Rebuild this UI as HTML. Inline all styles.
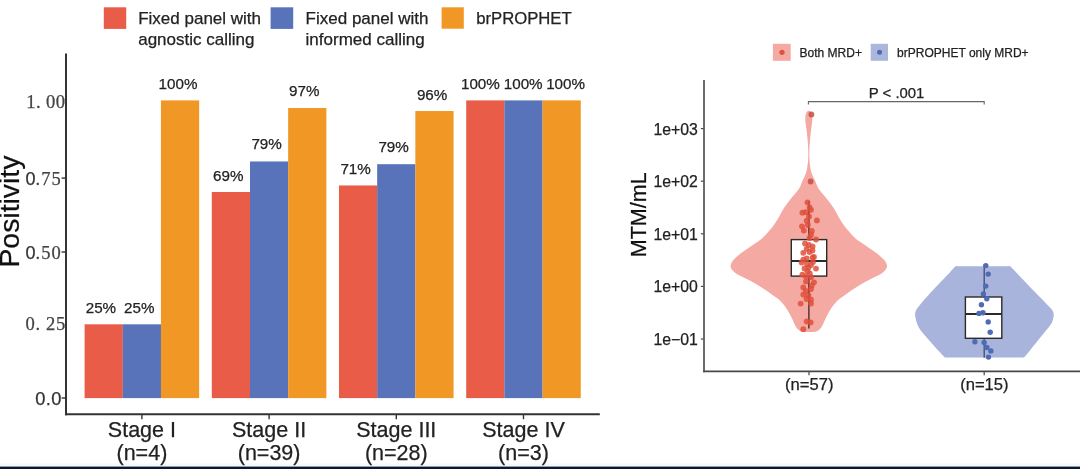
<!DOCTYPE html>
<html><head><meta charset="utf-8"><title>chart</title>
<style>
html,body{margin:0;padding:0;background:#fff;}
body{width:1080px;height:469px;overflow:hidden;position:relative;font-family:"Liberation Sans",sans-serif;}
svg{position:absolute;left:0;top:0;display:block;filter:blur(0.5px);}
text{font-family:"Liberation Sans",sans-serif;}
.serif{font-family:"Liberation Serif",serif;}
</style></head><body>
<svg width="1080" height="469" viewBox="0 0 1080 469">
<rect x="0" y="0" width="1080" height="469" fill="#ffffff"/>
<rect x="0" y="463.5" width="1080" height="3.5" fill="#F2FAFD"/>
<rect x="0" y="466.6" width="1080" height="2.4" fill="#0B1733"/>
<rect x="84.60" y="324.30" width="38.22" height="73.80" fill="#E85C48"/>
<rect x="122.77" y="324.30" width="38.22" height="73.80" fill="#5873B9"/>
<rect x="160.94" y="100.40" width="38.22" height="297.70" fill="#F19726"/>
<rect x="211.80" y="192.00" width="38.22" height="206.10" fill="#E85C48"/>
<rect x="249.97" y="161.47" width="38.22" height="236.63" fill="#5873B9"/>
<rect x="288.14" y="108.03" width="38.22" height="290.07" fill="#F19726"/>
<rect x="339.00" y="185.46" width="38.22" height="212.64" fill="#E85C48"/>
<rect x="377.17" y="164.19" width="38.22" height="233.91" fill="#5873B9"/>
<rect x="415.34" y="111.03" width="38.22" height="287.07" fill="#F19726"/>
<rect x="466.20" y="100.40" width="38.22" height="297.70" fill="#E85C48"/>
<rect x="504.37" y="100.40" width="38.22" height="297.70" fill="#5873B9"/>
<rect x="542.54" y="100.40" width="38.22" height="297.70" fill="#F19726"/>
<line x1="66" y1="53.5" x2="66" y2="415.3" stroke="#333333" stroke-width="2"/>
<line x1="65" y1="414.3" x2="599.8" y2="414.3" stroke="#333333" stroke-width="2"/>
<line x1="61.6" y1="178.1" x2="65.5" y2="178.1" stroke="#333333" stroke-width="1.4"/>
<line x1="61.6" y1="252.0" x2="65.5" y2="252.0" stroke="#333333" stroke-width="1.4"/>
<line x1="61.6" y1="398.0" x2="65.5" y2="398.0" stroke="#333333" stroke-width="1.4"/>
<line x1="141.9" y1="414.5" x2="141.9" y2="419.2" stroke="#333333" stroke-width="1.4"/>
<line x1="269.1" y1="414.5" x2="269.1" y2="419.2" stroke="#333333" stroke-width="1.4"/>
<line x1="396.3" y1="414.5" x2="396.3" y2="419.2" stroke="#333333" stroke-width="1.4"/>
<line x1="523.5" y1="414.5" x2="523.5" y2="419.2" stroke="#333333" stroke-width="1.4"/>
<text class="serif" x="65.3" y="107.5" font-size="18.6" text-anchor="end" fill="#444" letter-spacing="0.35" stroke="#444" stroke-width="0.25">1. 00</text>
<text x="25.5" y="185.4" font-size="18" fill="#333" stroke="#333" stroke-width="0.25">0</text>
<text class="serif" x="35.6" y="185.3" font-size="18.5" fill="#444" letter-spacing="1.0" stroke="#444" stroke-width="0.25">.75</text>
<text x="25.5" y="259.3" font-size="18" fill="#333" stroke="#333" stroke-width="0.25">0</text>
<text class="serif" x="35.6" y="259.2" font-size="18.5" fill="#444" letter-spacing="1.0" stroke="#444" stroke-width="0.25">.50</text>
<text class="serif" x="66.0" y="329.6" font-size="18.6" text-anchor="end" fill="#444" letter-spacing="0.65" stroke="#444" stroke-width="0.25">0. 25</text>
<text x="35.2" y="404.9" font-size="18.3" fill="#333" letter-spacing="0.4" stroke="#333" stroke-width="0.25">0.0</text>
<text transform="translate(18.5,211.6) rotate(-90)" font-size="28.4" text-anchor="middle" fill="#111" stroke="#111" stroke-width="0.25">Positivity</text>
<text x="141.9" y="437.2" font-size="21.5" text-anchor="middle" fill="#222222" stroke="#222222" stroke-width="0.25">Stage I</text>
<text x="141.9" y="459.8" font-size="21.5" text-anchor="middle" fill="#222222" stroke="#222222" stroke-width="0.25">(n=4)</text>
<text x="269.1" y="437.2" font-size="21.5" text-anchor="middle" fill="#222222" stroke="#222222" stroke-width="0.25">Stage II</text>
<text x="269.1" y="459.8" font-size="21.5" text-anchor="middle" fill="#222222" stroke="#222222" stroke-width="0.25">(n=39)</text>
<text x="396.3" y="437.2" font-size="21.5" text-anchor="middle" fill="#222222" stroke="#222222" stroke-width="0.25">Stage III</text>
<text x="396.3" y="459.8" font-size="21.5" text-anchor="middle" fill="#222222" stroke="#222222" stroke-width="0.25">(n=28)</text>
<text x="523.5" y="437.2" font-size="21.5" text-anchor="middle" fill="#222222" stroke="#222222" stroke-width="0.25">Stage IV</text>
<text x="523.5" y="459.8" font-size="21.5" text-anchor="middle" fill="#222222" stroke="#222222" stroke-width="0.25">(n=3)</text>
<text x="100.9" y="312.6" font-size="15.2" text-anchor="middle" fill="#222222" stroke="#222222" stroke-width="0.25">25%</text>
<text x="139.3" y="312.6" font-size="15.2" text-anchor="middle" fill="#222222" stroke="#222222" stroke-width="0.25">25%</text>
<text x="178.0" y="88.6" font-size="15.2" text-anchor="middle" fill="#222222" stroke="#222222" stroke-width="0.25">100%</text>
<text x="228.2" y="180.5" font-size="15.2" text-anchor="middle" fill="#222222" stroke="#222222" stroke-width="0.25">69%</text>
<text x="266.6" y="149.3" font-size="15.2" text-anchor="middle" fill="#222222" stroke="#222222" stroke-width="0.25">79%</text>
<text x="304.3" y="96.2" font-size="15.2" text-anchor="middle" fill="#222222" stroke="#222222" stroke-width="0.25">97%</text>
<text x="355.6" y="174.3" font-size="15.2" text-anchor="middle" fill="#222222" stroke="#222222" stroke-width="0.25">71%</text>
<text x="393.6" y="152.4" font-size="15.2" text-anchor="middle" fill="#222222" stroke="#222222" stroke-width="0.25">79%</text>
<text x="432.1" y="99.5" font-size="15.2" text-anchor="middle" fill="#222222" stroke="#222222" stroke-width="0.25">96%</text>
<text x="480.4" y="88.5" font-size="15.2" text-anchor="middle" fill="#222222" stroke="#222222" stroke-width="0.25">100%</text>
<text x="523.2" y="88.5" font-size="15.2" text-anchor="middle" fill="#222222" stroke="#222222" stroke-width="0.25">100%</text>
<text x="565.6" y="88.5" font-size="15.2" text-anchor="middle" fill="#222222" stroke="#222222" stroke-width="0.25">100%</text>
<rect x="103.8" y="7.3" width="22.4" height="21.6" fill="#E85C48"/>
<text x="138.2" y="24.4" font-size="17" fill="#222222" stroke="#222222" stroke-width="0.25">Fixed panel with</text>
<text x="138.2" y="44.9" font-size="17" fill="#222222" stroke="#222222" stroke-width="0.25">agnostic calling</text>
<rect x="270.6" y="7.3" width="22.6" height="21.6" fill="#5873B9"/>
<text x="305.6" y="24.4" font-size="17" fill="#222222" stroke="#222222" stroke-width="0.25">Fixed panel with</text>
<text x="305.6" y="44.9" font-size="17" fill="#222222" stroke="#222222" stroke-width="0.25">informed calling</text>
<rect x="441.6" y="7.3" width="22.2" height="21.4" fill="#F19726"/>
<text x="476.2" y="24.4" font-size="16.7" fill="#222222" stroke="#222222" stroke-width="0.25">brPROPHET</text>
<line x1="704" y1="80" x2="704" y2="372.2" stroke="#484848" stroke-width="1.6"/>
<line x1="703.2" y1="371.4" x2="1080" y2="371.4" stroke="#484848" stroke-width="1.6"/>
<line x1="700.9" y1="128.6" x2="703.5" y2="128.6" stroke="#484848" stroke-width="1.2"/>
<text x="697.8" y="134.5" font-size="15.8" text-anchor="end" fill="#222222" stroke="#222222" stroke-width="0.25">1e+03</text>
<line x1="700.9" y1="181.2" x2="703.5" y2="181.2" stroke="#484848" stroke-width="1.2"/>
<text x="697.8" y="187.1" font-size="15.8" text-anchor="end" fill="#222222" stroke="#222222" stroke-width="0.25">1e+02</text>
<line x1="700.9" y1="233.8" x2="703.5" y2="233.8" stroke="#484848" stroke-width="1.2"/>
<text x="697.8" y="239.7" font-size="15.8" text-anchor="end" fill="#222222" stroke="#222222" stroke-width="0.25">1e+01</text>
<line x1="700.9" y1="286.4" x2="703.5" y2="286.4" stroke="#484848" stroke-width="1.2"/>
<text x="697.8" y="292.3" font-size="15.8" text-anchor="end" fill="#222222" stroke="#222222" stroke-width="0.25">1e+00</text>
<line x1="700.9" y1="339.0" x2="703.5" y2="339.0" stroke="#484848" stroke-width="1.2"/>
<text x="697.8" y="344.9" font-size="15.8" text-anchor="end" fill="#222222" stroke="#222222" stroke-width="0.25">1e−01</text>
<line x1="809.0" y1="371.4" x2="809.0" y2="375.3" stroke="#484848" stroke-width="1.2"/>
<line x1="984.2" y1="371.4" x2="984.2" y2="375.3" stroke="#484848" stroke-width="1.2"/>
<text x="809.3" y="390.2" font-size="16.6" text-anchor="middle" fill="#222222" stroke="#222222" stroke-width="0.25">(n=57)</text>
<text x="984.4" y="390.2" font-size="16.6" text-anchor="middle" fill="#222222" stroke="#222222" stroke-width="0.25">(n=15)</text>
<text transform="translate(646.3,214.8) rotate(-90)" font-size="21.5" text-anchor="middle" fill="#111" stroke="#111" stroke-width="0.25">MTM/mL</text>
<rect x="772.9" y="43.8" width="17.8" height="17" fill="#F4AAA3"/>
<circle cx="782.0" cy="52.3" r="2.6" fill="#DA5241"/>
<text x="799.6" y="56.7" font-size="12" fill="#222222" stroke="#222222" stroke-width="0.25">Both MRD+</text>
<rect x="870.7" y="43.8" width="17.3" height="17" fill="#AAB6DC"/>
<circle cx="879.5" cy="52.3" r="2.5" fill="#4F69B3"/>
<text x="897.1" y="56.7" font-size="12" fill="#222222" stroke="#222222" stroke-width="0.25">brPROPHET only MRD+</text>
<path d="M808.4 104.6 V101.6 H984.2 V104.6" fill="none" stroke="#666" stroke-width="1.1"/>
<text x="896.6" y="98.4" font-size="14.9" text-anchor="middle" fill="#222222" stroke="#222222" stroke-width="0.25">P &lt; .001</text>
<path d="M809.40 110.80 C809.73 111.17 810.92 111.97 811.40 113.00 C811.88 114.03 812.20 115.33 812.30 117.00 C812.40 118.67 812.25 120.50 812.00 123.00 C811.75 125.50 811.17 128.83 810.80 132.00 C810.43 135.17 810.04 138.67 809.80 142.00 C809.56 145.33 809.40 149.00 809.35 152.00 C809.30 155.00 809.27 157.07 809.50 160.00 C809.73 162.93 810.22 167.10 810.70 169.60 C811.18 172.10 811.78 173.40 812.40 175.00 C813.02 176.60 813.73 177.70 814.40 179.20 C815.07 180.70 815.70 182.40 816.40 184.00 C817.10 185.60 817.62 187.22 818.60 188.80 C819.58 190.38 820.98 191.90 822.30 193.50 C823.62 195.10 824.62 196.00 826.50 198.40 C828.38 200.80 831.52 204.72 833.60 207.90 C835.68 211.08 837.43 214.82 839.00 217.50 C840.57 220.18 841.70 222.08 843.00 224.00 C844.30 225.92 845.58 227.50 846.80 229.00 C848.02 230.50 849.13 231.72 850.30 233.00 C851.47 234.28 852.60 235.53 853.80 236.70 C855.00 237.87 855.92 238.78 857.50 240.00 C859.08 241.22 861.60 242.83 863.30 244.00 C865.00 245.17 866.23 246.00 867.70 247.00 C869.17 248.00 870.55 248.92 872.10 250.00 C873.65 251.08 875.50 252.33 877.00 253.50 C878.50 254.67 879.90 255.92 881.10 257.00 C882.30 258.08 883.35 259.00 884.20 260.00 C885.05 261.00 885.73 262.03 886.20 263.00 C886.67 263.97 886.97 264.88 887.00 265.80 C887.03 266.72 886.83 267.63 886.40 268.50 C885.97 269.37 885.33 270.08 884.40 271.00 C883.47 271.92 882.40 273.00 880.80 274.00 C879.20 275.00 876.80 276.00 874.80 277.00 C872.80 278.00 870.72 279.00 868.80 280.00 C866.88 281.00 865.05 282.00 863.30 283.00 C861.55 284.00 860.05 284.92 858.30 286.00 C856.55 287.08 854.55 288.33 852.80 289.50 C851.05 290.67 849.33 291.92 847.80 293.00 C846.27 294.08 845.20 294.83 843.60 296.00 C842.00 297.17 840.00 298.33 838.20 300.00 C836.40 301.67 834.33 304.00 832.80 306.00 C831.27 308.00 830.17 310.00 829.00 312.00 C827.83 314.00 826.78 316.00 825.80 318.00 C824.82 320.00 823.87 322.42 823.10 324.00 C822.33 325.58 821.85 326.53 821.20 327.50 C820.55 328.47 819.90 329.17 819.20 329.80 C818.50 330.43 817.82 330.93 817.00 331.30 C816.18 331.67 814.75 331.88 814.30 332.00 L803.30 332.00 C802.85 331.88 801.42 331.67 800.60 331.30 C799.78 330.93 799.10 330.43 798.40 329.80 C797.70 329.17 797.05 328.47 796.40 327.50 C795.75 326.53 795.27 325.58 794.50 324.00 C793.73 322.42 792.78 320.00 791.80 318.00 C790.82 316.00 789.77 314.00 788.60 312.00 C787.43 310.00 786.33 308.00 784.80 306.00 C783.27 304.00 781.20 301.67 779.40 300.00 C777.60 298.33 775.60 297.17 774.00 296.00 C772.40 294.83 771.33 294.08 769.80 293.00 C768.27 291.92 766.55 290.67 764.80 289.50 C763.05 288.33 761.05 287.08 759.30 286.00 C757.55 284.92 756.05 284.00 754.30 283.00 C752.55 282.00 750.72 281.00 748.80 280.00 C746.88 279.00 744.80 278.00 742.80 277.00 C740.80 276.00 738.40 275.00 736.80 274.00 C735.20 273.00 734.13 271.92 733.20 271.00 C732.27 270.08 731.63 269.37 731.20 268.50 C730.77 267.63 730.57 266.72 730.60 265.80 C730.63 264.88 730.93 263.97 731.40 263.00 C731.87 262.03 732.55 261.00 733.40 260.00 C734.25 259.00 735.30 258.08 736.50 257.00 C737.70 255.92 739.10 254.67 740.60 253.50 C742.10 252.33 743.95 251.08 745.50 250.00 C747.05 248.92 748.43 248.00 749.90 247.00 C751.37 246.00 752.60 245.17 754.30 244.00 C756.00 242.83 758.52 241.22 760.10 240.00 C761.68 238.78 762.60 237.87 763.80 236.70 C765.00 235.53 766.13 234.28 767.30 233.00 C768.47 231.72 769.58 230.50 770.80 229.00 C772.02 227.50 773.30 225.92 774.60 224.00 C775.90 222.08 777.03 220.18 778.60 217.50 C780.17 214.82 781.92 211.08 784.00 207.90 C786.08 204.72 789.22 200.80 791.10 198.40 C792.98 196.00 793.98 195.10 795.30 193.50 C796.62 191.90 798.02 190.38 799.00 188.80 C799.98 187.22 800.50 185.60 801.20 184.00 C801.90 182.40 802.53 180.70 803.20 179.20 C803.87 177.70 804.58 176.60 805.20 175.00 C805.82 173.40 806.42 172.10 806.90 169.60 C807.38 167.10 807.87 162.93 808.10 160.00 C808.32 157.07 808.30 155.00 808.25 152.00 C808.20 149.00 808.04 145.33 807.80 142.00 C807.56 138.67 807.17 135.17 806.80 132.00 C806.43 128.83 805.85 125.50 805.60 123.00 C805.35 120.50 805.20 118.67 805.30 117.00 C805.40 115.33 805.72 114.03 806.20 113.00 C806.68 111.97 807.87 111.17 808.20 110.80 Z" fill="#F4A9A2"/>
<path d="M1008.60 266.30 C1008.90 266.35 1009.17 265.60 1010.40 266.60 C1011.63 267.60 1014.08 270.33 1016.00 272.30 C1017.92 274.27 1019.03 275.42 1021.90 278.40 C1024.77 281.38 1029.40 286.28 1033.20 290.20 C1037.00 294.12 1041.70 298.80 1044.70 301.90 C1047.70 305.00 1049.77 307.08 1051.20 308.80 C1052.63 310.52 1052.88 311.13 1053.30 312.20 C1053.72 313.27 1053.82 313.82 1053.70 315.20 C1053.58 316.58 1053.22 318.77 1052.60 320.50 C1051.98 322.23 1051.98 322.83 1050.00 325.60 C1048.02 328.37 1043.82 333.23 1040.70 337.10 C1037.58 340.97 1033.82 345.68 1031.30 348.80 C1028.78 351.92 1026.82 354.38 1025.60 355.80 C1024.38 357.22 1024.60 357.00 1024.00 357.30 C1023.40 357.60 1022.33 357.55 1022.00 357.60 L946.50 357.60 C946.18 357.55 945.15 357.60 944.60 357.30 C944.05 357.00 944.77 357.48 943.20 355.80 C941.63 354.12 938.10 350.40 935.20 347.20 C932.30 344.00 928.45 339.77 925.80 336.60 C923.15 333.43 920.83 330.63 919.30 328.20 C917.77 325.77 917.27 323.95 916.60 322.00 C915.93 320.05 915.53 317.97 915.30 316.50 C915.07 315.03 914.98 314.42 915.20 313.20 C915.42 311.98 915.42 311.08 916.60 309.20 C917.78 307.32 919.60 305.07 922.30 301.90 C925.00 298.73 929.17 294.12 932.80 290.20 C936.43 286.28 941.23 281.40 944.10 278.40 C946.97 275.40 948.12 274.17 950.00 272.20 C951.88 270.23 954.17 267.58 955.40 266.60 C956.63 265.62 957.07 266.35 957.40 266.30 Z" fill="#A8B4DB"/>
<line x1="808.9" y1="201" x2="808.9" y2="328.5" stroke="#3a2522" stroke-width="1.3"/>
<rect x="791.3" y="239.6" width="35.4" height="36.5" fill="#ffffff" stroke="#2b2b2b" stroke-width="1.4"/>
<line x1="791.3" y1="261.0" x2="826.7" y2="261.0" stroke="#2b2b2b" stroke-width="1.8"/>
<line x1="808.9" y1="239.6" x2="808.9" y2="276.1" stroke="#3a2522" stroke-width="1.0" opacity="0.0"/>
<circle cx="811.4" cy="114.5" r="2.9" fill="#C4503F" fill-opacity="0.84"/>
<circle cx="810.6" cy="181.5" r="2.9" fill="#C4503F" fill-opacity="0.84"/>
<circle cx="807.5" cy="202.3" r="2.9" fill="#E04E39" fill-opacity="0.84"/>
<circle cx="809.6" cy="207.4" r="2.9" fill="#E04E39" fill-opacity="0.84"/>
<circle cx="811.0" cy="209.8" r="2.9" fill="#E04E39" fill-opacity="0.84"/>
<circle cx="802.4" cy="212.7" r="2.9" fill="#E04E39" fill-opacity="0.84"/>
<circle cx="805.8" cy="212.2" r="2.9" fill="#E04E39" fill-opacity="0.84"/>
<circle cx="816.9" cy="220.4" r="2.9" fill="#E04E39" fill-opacity="0.84"/>
<circle cx="806.7" cy="220.7" r="2.9" fill="#E04E39" fill-opacity="0.84"/>
<circle cx="802.0" cy="226.3" r="2.9" fill="#E04E39" fill-opacity="0.84"/>
<circle cx="803.8" cy="230.6" r="2.9" fill="#E04E39" fill-opacity="0.84"/>
<circle cx="811.8" cy="231.0" r="2.9" fill="#E04E39" fill-opacity="0.84"/>
<circle cx="811.0" cy="234.7" r="2.9" fill="#E04E39" fill-opacity="0.84"/>
<circle cx="816.0" cy="239.5" r="2.9" fill="#E04E39" fill-opacity="0.84"/>
<circle cx="808.9" cy="245.0" r="2.9" fill="#E04E39" fill-opacity="0.84"/>
<circle cx="812.6" cy="246.3" r="2.9" fill="#E04E39" fill-opacity="0.84"/>
<circle cx="806.7" cy="248.8" r="2.9" fill="#E04E39" fill-opacity="0.84"/>
<circle cx="803.3" cy="252.8" r="2.9" fill="#E04E39" fill-opacity="0.84"/>
<circle cx="814.0" cy="256.9" r="2.9" fill="#E04E39" fill-opacity="0.84"/>
<circle cx="803.3" cy="259.6" r="2.9" fill="#E04E39" fill-opacity="0.84"/>
<circle cx="801.6" cy="262.5" r="2.9" fill="#E04E39" fill-opacity="0.84"/>
<circle cx="806.7" cy="258.4" r="2.9" fill="#E04E39" fill-opacity="0.84"/>
<circle cx="812.6" cy="257.6" r="2.9" fill="#E04E39" fill-opacity="0.84"/>
<circle cx="811.0" cy="265.0" r="2.9" fill="#E04E39" fill-opacity="0.84"/>
<circle cx="808.4" cy="267.6" r="2.9" fill="#E04E39" fill-opacity="0.84"/>
<circle cx="816.0" cy="268.6" r="2.9" fill="#E04E39" fill-opacity="0.84"/>
<circle cx="807.5" cy="271.2" r="2.9" fill="#E04E39" fill-opacity="0.84"/>
<circle cx="802.4" cy="274.6" r="2.9" fill="#E04E39" fill-opacity="0.84"/>
<circle cx="805.8" cy="276.3" r="2.9" fill="#E04E39" fill-opacity="0.84"/>
<circle cx="811.0" cy="277.2" r="2.9" fill="#E04E39" fill-opacity="0.84"/>
<circle cx="814.0" cy="282.3" r="2.9" fill="#E04E39" fill-opacity="0.84"/>
<circle cx="811.8" cy="285.4" r="2.9" fill="#E04E39" fill-opacity="0.84"/>
<circle cx="803.3" cy="287.4" r="2.9" fill="#E04E39" fill-opacity="0.84"/>
<circle cx="805.8" cy="290.8" r="2.9" fill="#E04E39" fill-opacity="0.84"/>
<circle cx="811.0" cy="289.1" r="2.9" fill="#E04E39" fill-opacity="0.84"/>
<circle cx="803.3" cy="294.6" r="2.9" fill="#E04E39" fill-opacity="0.84"/>
<circle cx="811.0" cy="299.7" r="2.9" fill="#E04E39" fill-opacity="0.84"/>
<circle cx="800.7" cy="303.6" r="2.9" fill="#E04E39" fill-opacity="0.84"/>
<circle cx="811.0" cy="303.6" r="2.9" fill="#E04E39" fill-opacity="0.84"/>
<circle cx="806.7" cy="321.5" r="2.9" fill="#E04E39" fill-opacity="0.84"/>
<circle cx="810.6" cy="322.4" r="2.9" fill="#E04E39" fill-opacity="0.84"/>
<circle cx="803.3" cy="329.2" r="2.9" fill="#E04E39" fill-opacity="0.84"/>
<circle cx="809.5" cy="252.0" r="2.9" fill="#E04E39" fill-opacity="0.84"/>
<circle cx="807.0" cy="264.0" r="2.9" fill="#E04E39" fill-opacity="0.84"/>
<circle cx="813.0" cy="262.0" r="2.9" fill="#E04E39" fill-opacity="0.84"/>
<circle cx="804.5" cy="268.5" r="2.9" fill="#E04E39" fill-opacity="0.84"/>
<circle cx="809.8" cy="273.5" r="2.9" fill="#E04E39" fill-opacity="0.84"/>
<circle cx="812.5" cy="250.5" r="2.9" fill="#E04E39" fill-opacity="0.84"/>
<circle cx="805.0" cy="243.5" r="2.9" fill="#E04E39" fill-opacity="0.84"/>
<circle cx="809.0" cy="216.5" r="2.9" fill="#E04E39" fill-opacity="0.84"/>
<circle cx="807.8" cy="225.0" r="2.9" fill="#E04E39" fill-opacity="0.84"/>
<circle cx="809.5" cy="238.0" r="2.9" fill="#E04E39" fill-opacity="0.84"/>
<circle cx="806.0" cy="281.5" r="2.9" fill="#E04E39" fill-opacity="0.84"/>
<circle cx="808.5" cy="295.5" r="2.9" fill="#E04E39" fill-opacity="0.84"/>
<circle cx="806.5" cy="299.0" r="2.9" fill="#E04E39" fill-opacity="0.84"/>
<line x1="984.2" y1="264.6" x2="984.2" y2="357.7" stroke="#3c4a75" stroke-width="1.3"/>
<rect x="965.4" y="297.0" width="36.4" height="41.3" fill="#ffffff" stroke="#2b2b2b" stroke-width="1.4"/>
<line x1="965.4" y1="314.0" x2="1001.8" y2="314.0" stroke="#2b2b2b" stroke-width="1.8"/>
<circle cx="985.8" cy="265.6" r="2.7" fill="#4F6BB5"/>
<circle cx="988.2" cy="274.1" r="2.7" fill="#4F6BB5"/>
<circle cx="985.8" cy="286.1" r="2.7" fill="#4F6BB5"/>
<circle cx="983.4" cy="293.9" r="2.7" fill="#4F6BB5"/>
<circle cx="986.8" cy="298.7" r="2.7" fill="#4F6BB5"/>
<circle cx="981.4" cy="304.8" r="2.7" fill="#4F6BB5"/>
<circle cx="979.0" cy="313.4" r="2.7" fill="#4F6BB5"/>
<circle cx="983.0" cy="312.7" r="2.7" fill="#4F6BB5"/>
<circle cx="988.2" cy="321.9" r="2.7" fill="#4F6BB5"/>
<circle cx="990.2" cy="332.2" r="2.7" fill="#4F6BB5"/>
<circle cx="974.9" cy="341.7" r="2.7" fill="#4F6BB5"/>
<circle cx="984.1" cy="342.4" r="2.7" fill="#4F6BB5"/>
<circle cx="986.8" cy="347.5" r="2.7" fill="#4F6BB5"/>
<circle cx="990.9" cy="350.9" r="2.7" fill="#4F6BB5"/>
<circle cx="988.5" cy="357.1" r="2.7" fill="#4F6BB5"/>
</svg>
</body></html>
